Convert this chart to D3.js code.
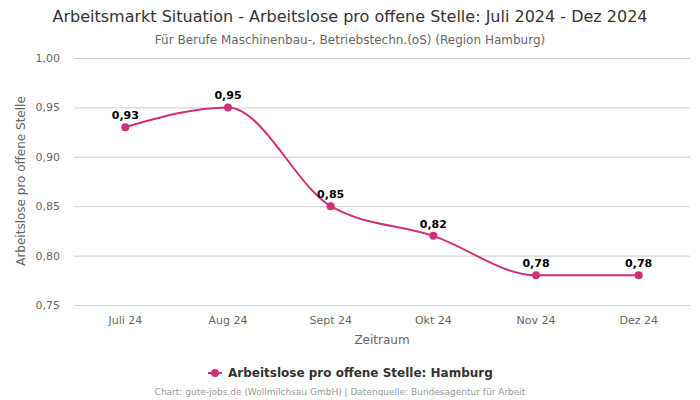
<!DOCTYPE html>
<html><head><meta charset="utf-8">
<script src="https://cdn.jsdelivr.net/npm/d3@7"></script>
<style>body{margin:0;background:#fff}svg{display:block;font-family:"DejaVu Sans",sans-serif}</style>
</head><body>
<svg id="c" width="700" height="400"></svg>
<script>
const categories = ["Juli 24","Aug 24","Sept 24","Okt 24","Nov 24","Dez 24"];
const values = [0.93,0.95,0.85,0.82,0.78,0.78];
const yTicks = [0.75,0.80,0.85,0.90,0.95,1.00];
const seriesName = "Arbeitslose pro offene Stelle: Hamburg";
const color = "#d0307a";
const fmt = v => d3.format(".2f")(v).replace(".", ",");

const svg = d3.select("#c");
const L=74,R=690,T=58,B=305;
const x = d3.scaleBand().domain(categories).range([L,R]);
const y = d3.scaleLinear().domain([0.75,1.0]).range([B,T]);

svg.append("text").attr("x",350).attr("y",22).attr("text-anchor","middle").attr("font-size",16).attr("fill","#333").text("Arbeitsmarkt Situation - Arbeitslose pro offene Stelle: Juli 2024 - Dez 2024");
svg.append("text").attr("x",350).attr("y",44).attr("text-anchor","middle").attr("font-size",12).attr("fill","#666").text("Für Berufe Maschinenbau-, Betriebstechn.(oS) (Region Hamburg)");

const gy = svg.append("g").attr("transform",`translate(${L},0)`)
  .call(d3.axisLeft(y).tickValues(yTicks).tickSize(-(R-L)).tickFormat(fmt));
gy.select(".domain").remove();
gy.selectAll(".tick line").attr("stroke","#ccc");
gy.selectAll(".tick text").attr("x",-14).attr("fill","#666").attr("font-size",11).attr("font-family","DejaVu Sans");

const gx = svg.append("g").attr("transform",`translate(0,${B})`)
  .call(d3.axisBottom(x).tickSize(0).tickPadding(11));
gx.select(".domain").attr("stroke","#ccd6eb");
gx.selectAll(".tick text").attr("fill","#666").attr("font-size",11).attr("font-family","DejaVu Sans");

svg.append("text").attr("transform","translate(25,181) rotate(-90)").attr("text-anchor","middle").attr("font-size",12).attr("fill","#666").text("Arbeitslose pro offene Stelle");
svg.append("text").attr("x",382).attr("y",344).attr("text-anchor","middle").attr("font-size",12).attr("fill","#666").text("Zeitraum");

const cx = d => x(d)+x.bandwidth()/2;
const line = d3.line().x((d,i)=>cx(categories[i])).y(d=>y(d)).curve(d3.curveMonotoneX);
svg.append("path").datum(values).attr("d",line).attr("fill","none").attr("stroke",color).attr("stroke-width",2);
svg.selectAll("circle.p").data(values).enter().append("circle").attr("class","p")
  .attr("cx",(d,i)=>cx(categories[i])).attr("cy",d=>y(d)).attr("r",4).attr("fill",color);
svg.selectAll("text.lbl").data(values).enter().append("text").attr("class","lbl")
  .attr("x",(d,i)=>cx(categories[i])).attr("y",d=>y(d)-8).attr("text-anchor","middle")
  .attr("font-size",11).attr("font-weight","bold").attr("fill","#000").text(fmt);

const lg = svg.append("g");
lg.append("line").attr("x1",208).attr("x2",222).attr("y1",373).attr("y2",373).attr("stroke",color).attr("stroke-width",2);
lg.append("circle").attr("cx",215).attr("cy",373).attr("r",4).attr("fill",color);
lg.append("text").attr("x",228).attr("y",377).attr("font-size",12).attr("font-weight","bold").attr("fill","#333").text(seriesName);

svg.append("text").attr("x",340).attr("y",395).attr("text-anchor","middle").attr("font-size",9).attr("fill","#999").text("Chart: gute-jobs.de (Wollmilchsau GmbH) | Datenquelle: Bundesagentur für Arbeit");
</script>
</body></html>
